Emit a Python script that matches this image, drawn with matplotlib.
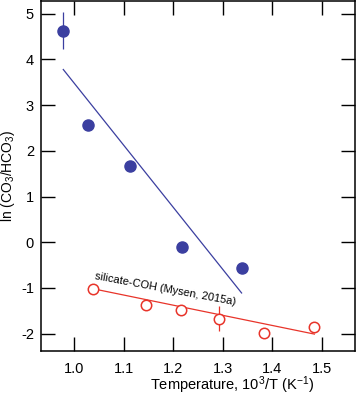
import numpy as np
import matplotlib
matplotlib.use("Agg")
import matplotlib.pyplot as plt

plt.rcParams['font.family'] = ['Liberation Sans', 'DejaVu Sans']
plt.rcParams['mathtext.default'] = 'regular'
plt.rcParams['axes.unicode_minus'] = False

# melt data (blue, filled)
melt_x = [0.978, 1.028, 1.113, 1.217, 1.338]
melt_y = [4.63, 2.56, 1.67, -0.11, -0.56]
melt_err = [0.41, 0, 0, 0, 0]
melt_fit_x = [0.978, 1.338]
melt_fit_y = [3.78, -1.11]

# silicate-COH (red, open)
coh_x = [1.039, 1.144, 1.215, 1.293, 1.384, 1.485]
coh_y = [-1.02, -1.38, -1.48, -1.67, -1.99, -1.85]
coh_err = [0, 0, 0, 0.27, 0, 0]
coh_fit_x = [1.039, 1.485]
coh_fit_y = [-1.02, -2.01]

xticks = [1.0, 1.1, 1.2, 1.3, 1.4, 1.5]
yticks = [-2, -1, 0, 1, 2, 3, 4, 5]

blue = '#3b3fa0'
red = '#e8342a'

fig = plt.figure(figsize=(3.56, 3.97), dpi=100)
ax = fig.add_axes([41/356, 46/397, 314/356, 350.5/397])

ax.plot(melt_fit_x, melt_fit_y, color=blue, lw=0.9)
ax.errorbar(melt_x, melt_y, yerr=melt_err, fmt='o', color=blue, ms=8,
            elinewidth=0.9, capsize=0, zorder=3)

ax.plot(coh_fit_x, coh_fit_y, color=red, lw=0.9)
ax.errorbar(coh_x, coh_y, yerr=coh_err, fmt='o', mfc='white', mec=red, color=red,
            ms=7.5, mew=1.1, elinewidth=0.9, capsize=0, zorder=3)

ax.text(1.184, -1.03, 'silicate-COH (Mysen, 2015a)', rotation=-10.5,
        ha='center', va='center', fontsize=8, rotation_mode='anchor')

ax.set_xlim(0.933, 1.567)
ax.set_ylim(-2.38, 5.29)
ax.set_xticks(xticks)
ax.set_xticklabels(['%.1f' % v for v in xticks])
ax.set_yticks(yticks)

ax.tick_params(direction='in', length=10, width=1.0, top=True, right=True,
               labelsize=10.5)
ax.tick_params(axis='x', pad=8)
ax.tick_params(axis='y', pad=5)
for s in ax.spines.values():
    s.set_linewidth(1.1)

ax.set_xlabel('Temperature, 10$^3$/T (K$^{-1}$)', fontsize=10.5)
ax.xaxis.set_label_coords(0.61, -0.068)
ax.set_ylabel('ln (CO$_3$/HCO$_3$)', fontsize=10)
ax.yaxis.set_label_coords(-0.076, 0.5)

fig.savefig('out.png', dpi=100)
